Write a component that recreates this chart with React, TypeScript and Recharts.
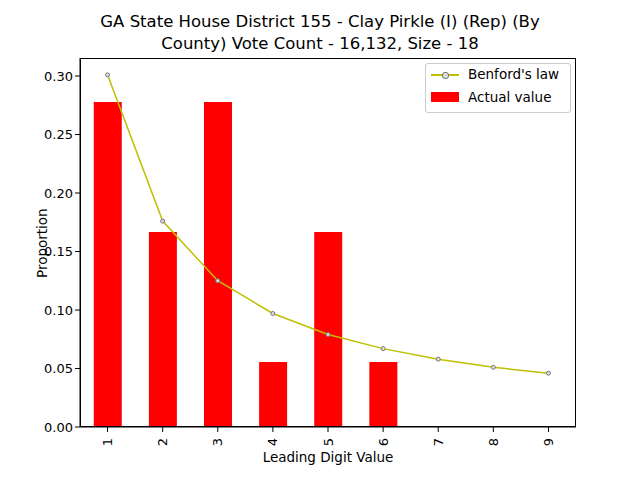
import { ComposedChart, Bar, Line, XAxis, YAxis } from 'recharts';

const digits = ['1', '2', '3', '4', '5', '6', '7', '8', '9'];
const actualValue = [5 / 18, 3 / 18, 5 / 18, 1 / 18, 3 / 18, 1 / 18, 0, 0, 0];
const benford = [0.301, 0.176, 0.125, 0.097, 0.079, 0.067, 0.058, 0.051, 0.046];
const yTicks = [0, 0.05, 0.1, 0.15, 0.2, 0.25, 0.3];

const data = digits.map((d, i) => ({ digit: d, actual: actualValue[i], benford: benford[i] }));

const font = '"DejaVu Sans", sans-serif';

const XTick = (props: any) => {
  const { x, y, payload } = props;
  return (
    <text x={x} y={y + 4} transform={`rotate(-90 ${x} ${y + 4})`} textAnchor="end" dominantBaseline="central" fontSize={13} fill="#000" fontFamily={font}>
      {payload.value}
    </text>
  );
};

export default function App() {
  return (
    <div style={{ position: 'absolute', left: 0, top: 0, width: 640, height: 480, background: '#fff', fontFamily: font }}>
      <div style={{ position: 'absolute', top: 11, width: 640, textAlign: 'center', fontSize: 16.5, lineHeight: '22px' }}>
        GA State House District 155 - Clay Pirkle (I) (Rep) (By<br />County) Vote Count - 16,132, Size - 18
      </div>
      <ComposedChart width={640} height={480} data={data} margin={{ top: 58, left: 30, right: 64, bottom: 23 }} barCategoryGap="25%">
        <XAxis dataKey="digit" interval={0} tick={<XTick />} tickLine={{ stroke: '#000' }} tickSize={5} axisLine={{ stroke: '#000' }} height={30} />
        <YAxis domain={[0, 0.3154]} ticks={yTicks} tickFormatter={(v: number) => v.toFixed(2)} tick={{ fontSize: 13, fill: '#000', fontFamily: font }} tickLine={{ stroke: '#000' }} tickSize={5} axisLine={{ stroke: '#000' }} width={50} allowDataOverflow />
        <Bar dataKey="actual" fill="#ff0000" isAnimationActive={false} />
        <Line dataKey="benford" stroke="#bfbf00" strokeWidth={1.5} isAnimationActive={false} dot={{ r: 2, stroke: '#777', fill: '#ddd', strokeWidth: 1 }} />
      </ComposedChart>
      <div style={{ position: 'absolute', left: 80, top: 58, width: 496, height: 369, border: '1px solid #000', boxSizing: 'border-box', pointerEvents: 'none' }} />
      <div style={{ position: 'absolute', top: 36, width: 640, display: 'none' }} />
      <div style={{ position: 'absolute', left: 78, top: 208, transform: 'rotate(-90deg)', transformOrigin: 'left top', fontSize: 13.5 }}>
        <span style={{ position: 'relative', left: -70, top: -44 }}>Proportion</span>
      </div>
      <div style={{ position: 'absolute', top: 449, left: 80, width: 496, textAlign: 'center', fontSize: 13.5 }}>Leading Digit Value</div>
      <div style={{ position: 'absolute', left: 425, top: 63, width: 144, height: 48, border: '1px solid #ccc', borderRadius: 3, fontSize: 13.5, background: '#fff' }}>
        <div style={{ position: 'absolute', left: 5, top: 10, width: 28, height: 2, background: '#bfbf00' }} />
        <div style={{ position: 'absolute', left: 16, top: 8, width: 5, height: 5, borderRadius: 3, border: '1px solid #777', background: '#ddd' }} />
        <div style={{ position: 'absolute', left: 42, top: 2 }}>Benford's law</div>
        <div style={{ position: 'absolute', left: 5, top: 28, width: 28, height: 10, background: '#ff0000' }} />
        <div style={{ position: 'absolute', left: 42, top: 25 }}>Actual value</div>
      </div>
    </div>
  );
}
